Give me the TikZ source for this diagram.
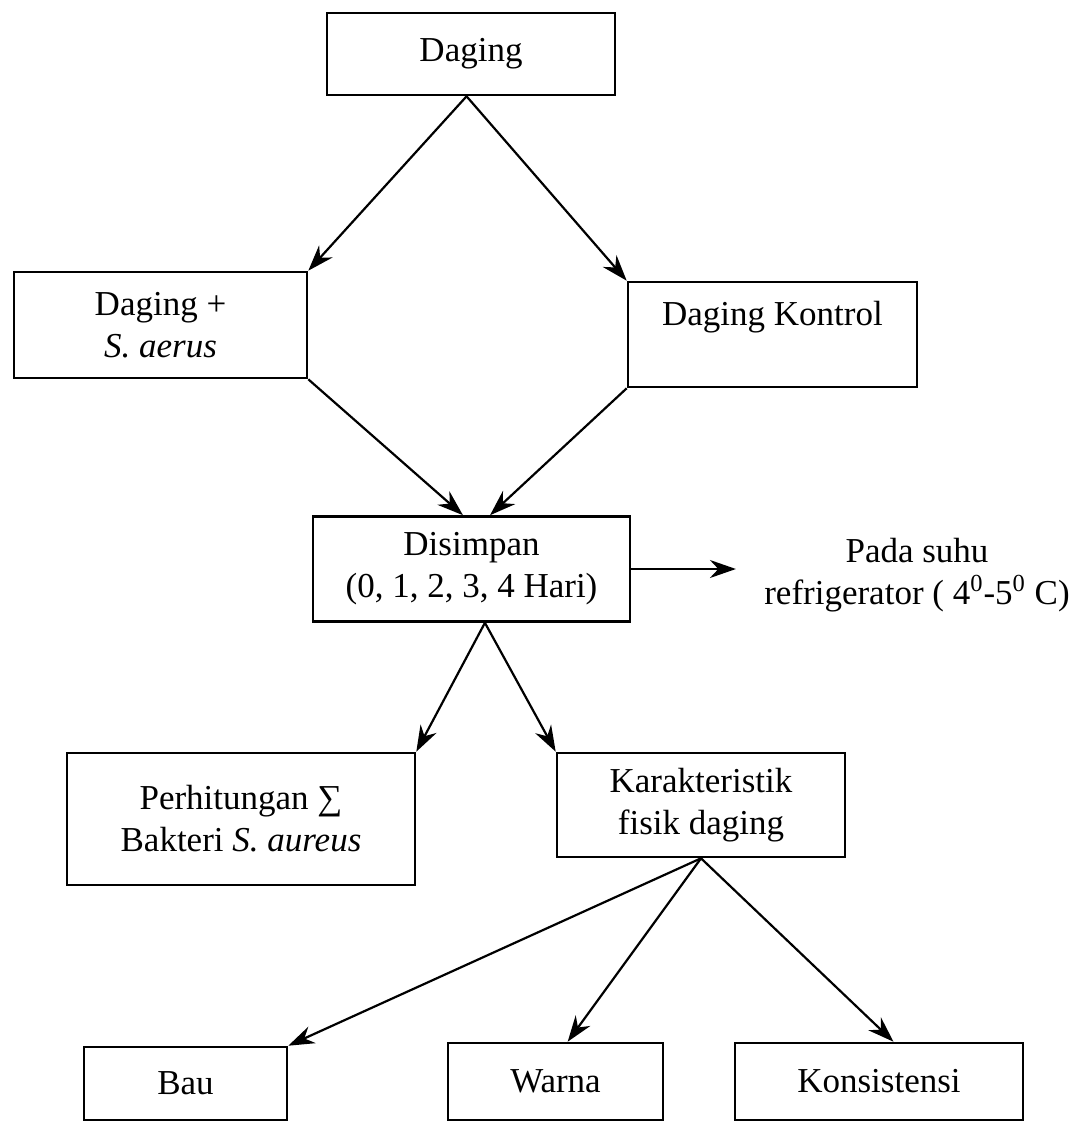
\documentclass[tikz,border=0pt]{standalone}
\usepackage{fontspec}
\setmainfont{Liberation Serif}
\usetikzlibrary{arrows.meta}
\tikzset{font=\fontsize{17.5}{21}\selectfont}
\tikzset{kotak/.style={draw,line width=1.3pt,align=center,inner sep=0pt},
  panah/.style={-{Stealth[length=13pt,width=9pt]},line width=1.1pt}}

\begin{document}
\begin{tikzpicture}[x=0.5pt,y=-0.5pt]
\useasboundingbox (0,0) rectangle (1076,1123);
\node[kotak,minimum width=144pt,minimum height=41pt] (daging) at (471,54) {Daging};
\node[kotak,minimum width=146.5pt,minimum height=53pt] (dagS) at (160.5,325) {Daging +\\\textit{S. aerus}};
\node[kotak,minimum width=144.5pt,minimum height=52.5pt] (dagK) at (772.5,334.5) {Daging Kontrol\\\mbox{}};
\node[kotak,minimum width=158.5pt,minimum height=52.5pt] (simpan) at (471.5,569) {Disimpan\\(0, 1, 2, 3, 4 Hari)};
\node[align=center,inner sep=0pt] (suhu) at (917,575) {Pada suhu\\refrigerator ( 4\textsuperscript{0}-5\textsuperscript{0} C)};
\node[kotak,minimum width=174pt,minimum height=66pt] (hitung) at (241,819) {Perhitungan ∑\\Bakteri \textit{S. aureus}};
\node[kotak,minimum width=144pt,minimum height=52pt] (fisik) at (701,805) {Karakteristik\\fisik daging};
\node[kotak,minimum width=101.5pt,minimum height=36.5pt] (bau) at (185.5,1083.5) {Bau};
\node[kotak,minimum width=107.5pt,minimum height=38.5pt] (warna) at (555.5,1081.5) {Warna};
\node[kotak,minimum width=144pt,minimum height=38.5pt] (kons) at (879,1081.5) {Konsistensi};

\path[panah] (daging.-96) edge (dagS.north east);
\path[panah] (daging.-96) edge (dagK.north west);
\path[panah] (dagS.south east) edge (simpan.99);
\path[panah] (dagK.south west) edge (simpan.71);
\path[panah] (simpan.east) edge[shorten >=14pt] (simpan.east -| suhu.west);
\path[panah] (simpan.-76) edge (hitung.north east);
\path[panah] (simpan.-76) edge (fisik.north west);
\path[panah] (fisik.south) edge (bau.north east);
\path[panah] (fisik.south) edge (warna.73);
\path[panah] (fisik.south) edge (kons.70);

\end{tikzpicture}
\end{document}
